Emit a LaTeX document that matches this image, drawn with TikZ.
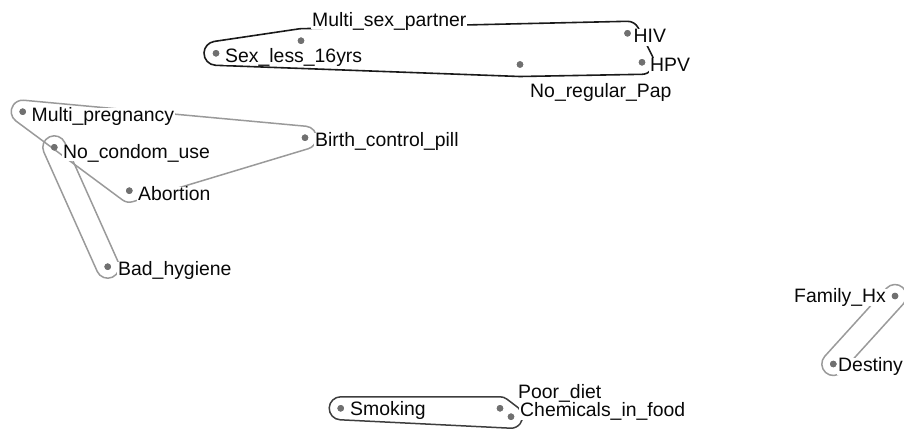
\documentclass[tikz,border=0pt]{standalone}
\usepackage{fontspec}
\setmainfont{Liberation Sans}
\usetikzlibrary{calc}
\definecolor{hullblack}{HTML}{1A1A1A}
\definecolor{hullgray}{HTML}{9A9A9A}
\definecolor{hulldark}{HTML}{3E3E3E}
\definecolor{dotgray}{HTML}{707070}
\definecolor{txtcol}{HTML}{080808}
\newcommand\lblfont{\fontsize{19.4}{22}\selectfont}
\tikzset{
  dot/.style={circle, fill=dotgray, draw=none, inner sep=0pt, minimum size=6.5pt},
  lbl/.style={anchor=base west, fill=white, inner xsep=1pt, inner ysep=0pt,
              text height=13.5pt, text depth=3pt, text=txtcol, font=\lblfont},
  hullB/.style={draw=hullblack, line width=1.6pt, line join=round},
  hullG/.style={draw=hullgray, line width=1.5pt, line join=round},
  hullD/.style={draw=hulldark, line width=1.5pt, line join=round}
}
\begin{document}
\begin{tikzpicture}[x=1pt, y=1pt]
\useasboundingbox (0,0) rectangle (904,-433);
\clip (0,0) rectangle (904,-433);
% point positions
\node[dot] (S)   at (216,-53.3) {};
\node[dot] (M)   at (301,-40.7) {};
\node[dot] (HIV) at (627.5,-33.3) {};
\node[dot] (HPV) at (642,-62.3) {};
\node[dot] (NRP) at (520,-64.5) {};
\node[dot] (MP)  at (22.7,-111.7) {};
\node[dot] (NC)  at (54.3,-147.3) {};
\node[dot] (BCP) at (305,-137.7) {};
\node[dot] (AB)  at (129.3,-190.7) {};
\node[dot] (BH)  at (107.7,-266.7) {};
\node[dot] (FH)  at (895,-296) {};
\node[dot] (D)   at (833.3,-364) {};
\node[dot] (SM)  at (340.7,-408.3) {};
\node[dot] (PD)  at (500,-408.3) {};
\node[dot] (CF)  at (511,-416.7) {};
% hulls
\draw[hullB] ($(S)+(-92.1:12)$) arc[start angle=-92.1, end angle=-261.5, radius=12]
  -- ($(M)+(-261.5:12)$) arc[start angle=-261.5, end angle=-268.7, radius=12]
  -- ($(HIV)+(-268.7:12)$) arc[start angle=-268.7, end angle=-332.7, radius=12]
  -- ($(HPV)+(-332.7:12)$) arc[start angle=-332.7, end angle=-449.1, radius=12]
  -- ($(NRP)+(-449.1:12)$) arc[start angle=-449.1, end angle=-452.1, radius=12]
  -- cycle;
\draw[hullG] ($(MP)+(-126.5:11.5)$) arc[start angle=-126.5, end angle=-275.3, radius=11.5]
  -- ($(BCP)+(84.7:11.5)$) arc[start angle=84.7, end angle=-73.2, radius=11.5]
  -- ($(AB)+(-73.2:11.5)$) arc[start angle=-73.2, end angle=-126.5, radius=11.5]
  -- cycle;
\draw[hullG] ($(NC)+(24.1:11.5)$) -- ($(BH)+(24.1:11.5)$)
  arc[start angle=24.1, end angle=-155.9, radius=11.5]
  -- ($(NC)+(-155.9:11.5)$) arc[start angle=-155.9, end angle=-335.9, radius=11.5]
  -- cycle;
\draw[hullG] ($(D)+(137.8:11.5)$) -- ($(FH)+(137.8:11.5)$)
  arc[start angle=137.8, end angle=-42.2, radius=11.5]
  -- ($(D)+(-42.2:11.5)$) arc[start angle=-42.2, end angle=-222.2, radius=11.5]
  -- cycle;
\draw[hullD] ($(SM)+(90:11.5)$) -- ($(PD)+(90:11.5)$)
  arc[start angle=90, end angle=52.6, radius=11.5]
  -- ($(CF)+(52.6:11.5)$) arc[start angle=52.6, end angle=-92.8, radius=11.5]
  -- ($(SM)+(-92.8:11.5)$) arc[start angle=-92.8, end angle=-270, radius=11.5]
  -- cycle;
% labels
\node[lbl] (MSPl) at (311,-26.5) {Multi\_sex\_partner};
\node[lbl] (SLl)  at (224,-62.5) {Sex\_less\_16yrs};
\node[lbl] (HIVl) at (632.5,-43) {HIV};
\node[lbl] (HPVl) at (649,-71.5) {HPV};
\node[lbl] (NRPl) at (529,-98) {No\_regular\_Pap};
\node[lbl] (MPl)  at (30.5,-121.5) {Multi\_pregnancy};
\node[lbl] (NCl)  at (62,-158) {No\_condom\_use};
\node[lbl] (ABl)  at (137,-200) {Abortion};
\node[lbl] (BCPl) at (314,-146.5) {Birth\_control\_pill};
\node[lbl] (BHl)  at (117,-275) {Bad\_hygiene};
\node[lbl] (FHl)  at (793,-302.5) {Family\_Hx};
\node[lbl] (Dl)   at (837,-371.5) {Destiny};
\node[lbl] (SMl)  at (349,-415) {Smoking};
\node[lbl] (PDl)  at (517,-398) {Poor\_diet};
\node[lbl] (CFl)  at (519,-416.5) {Chemicals\_in\_food};
% redraw dots on top
\foreach \p in {S,M,HIV,HPV,NRP,MP,NC,BCP,AB,BH,FH,D,SM,PD,CF}
  \fill[dotgray] (\p) circle[radius=3.3];
\end{tikzpicture}
\end{document}
